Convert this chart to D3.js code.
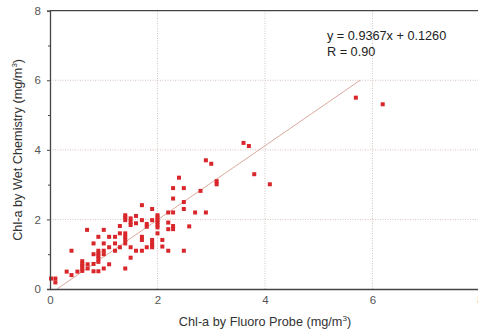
<!DOCTYPE html>
<html>
<head>
<meta charset="utf-8">
<script src="https://cdn.jsdelivr.net/npm/d3@7"></script>
<style>
  body { margin: 0; background: #fff; }
  svg { display: block; font-family: "Liberation Sans", Arial, sans-serif; }
</style>
</head>
<body>
<div id="chart"></div>
<script>
// Chl-a: fluoro probe (x) vs wet chemistry (y)
const probe = [0.02, 0.10, 0.10, 0.31, 0.40, 0.40, 0.51, 0.60, 0.60, 0.60, 0.60, 0.60,
  0.69, 0.70, 0.70, 0.81, 0.81, 0.81, 0.81, 0.90, 0.90, 0.90, 0.90, 0.90, 0.90, 0.90,
  1.00, 1.00, 1.00, 1.00, 1.00, 1.10, 1.10, 1.10, 1.21, 1.21, 1.21, 1.30, 1.30, 1.30,
  1.40, 1.40, 1.40, 1.40, 1.40, 1.40, 1.40, 1.40, 1.50, 1.50, 1.50, 1.50, 1.50,
  1.60, 1.60, 1.60, 1.71, 1.71, 1.71, 1.71, 1.71, 1.80, 1.80, 1.80,
  1.90, 1.90, 1.90, 1.90, 1.90, 1.90, 2.00, 2.00, 2.00, 2.00, 2.00, 2.00, 2.00,
  2.09, 2.09, 2.20, 2.20, 2.20, 2.20, 2.29, 2.29, 2.29, 2.29, 2.29, 2.40,
  2.49, 2.49, 2.49, 2.49, 2.59, 2.70, 2.80, 2.90, 2.90, 3.00, 3.10, 3.10,
  3.60, 3.70, 3.80, 4.09, 5.69, 6.19];
const wetChem = [0.30, 0.30, 0.19, 0.50, 0.40, 1.10, 0.50, 0.80, 0.72, 0.66, 0.59, 0.52,
  1.70, 0.71, 0.59, 1.31, 1.00, 0.72, 0.51, 1.50, 1.10, 1.02, 0.95, 0.87, 0.78, 0.51,
  1.70, 1.31, 1.10, 1.00, 0.59, 1.50, 1.20, 0.71, 1.50, 1.31, 1.10, 1.81, 1.60, 1.20,
  2.12, 2.06, 1.98, 1.60, 1.50, 1.41, 1.31, 0.59, 2.03, 1.93, 1.84, 1.20, 0.90,
  2.10, 1.89, 1.10, 2.41, 1.98, 1.50, 1.41, 1.10, 1.87, 1.79, 1.20,
  2.30, 1.98, 1.41, 1.33, 1.26, 1.20, 2.12, 2.06, 1.98, 1.92, 1.84, 1.77, 1.60,
  1.41, 1.22, 2.20, 1.91, 1.72, 1.10, 2.90, 2.60, 2.20, 1.81, 1.72, 3.20,
  2.90, 2.50, 2.30, 1.10, 1.80, 2.20, 2.82, 2.20, 3.70, 3.60, 3.10, 3.01,
  4.20, 4.11, 3.30, 3.01, 5.50, 5.31];

// fitted line as drawn (end points)
const fitX = [0.13, 5.77];
const fitY = [0.0, 6.0];

const xTicks = [0, 2, 4, 6, 8];
const yTicks = [0, 2, 4, 6, 8];
const yMinor = [1, 3, 5, 7];
const equation = ["y = 0.9367x + 0.1260", "R = 0.90"];

const W = 478, H = 332;
const margin = {top: 10.7, left: 50};
const plotW = 430, plotH = 278.3;

const svg = d3.select("#chart").append("svg")
  .attr("width", W).attr("height", H);

const x = d3.scaleLinear().domain([0, 8]).range([margin.left, margin.left + plotW]);
const y = d3.scaleLinear().domain([0, 8]).range([margin.top + plotH, margin.top]);

// dotted grid
svg.append("g")
  .selectAll("line")
  .data(xTicks.filter(d => d > 0 && d < 8))
  .join("line")
  .attr("x1", d => x(d)).attr("x2", d => x(d))
  .attr("y1", y(0)).attr("y2", y(8))
  .attr("stroke", "#cfc3bf").attr("stroke-width", 1)
  .attr("stroke-dasharray", "1 1.5");
svg.append("g")
  .selectAll("line")
  .data(yTicks.filter(d => d > 0 && d < 8))
  .join("line")
  .attr("x1", x(0)).attr("x2", x(8))
  .attr("y1", d => y(d)).attr("y2", d => y(d))
  .attr("stroke", "#d6c2ba").attr("stroke-width", 1)
  .attr("stroke-dasharray", "1 1.5");

// regression line
svg.append("line")
  .attr("x1", x(fitX[0])).attr("y1", y(fitY[0]))
  .attr("x2", x(fitX[1])).attr("y2", y(fitY[1]))
  .attr("stroke", "#dba99e").attr("stroke-width", 1);

// points
svg.append("g")
  .selectAll("rect")
  .data(probe.map((d, i) => [d, wetChem[i]]))
  .join("rect")
  .attr("x", d => x(d[0]) - 2)
  .attr("y", d => y(d[1]) - 2)
  .attr("width", 4).attr("height", 4)
  .attr("fill", "#d9262a");

// axes
const xAxis = svg.append("g")
  .attr("transform", `translate(0,${y(0)})`)
  .call(d3.axisBottom(x).tickValues(xTicks).tickSize(0).tickPadding(7));
const yAxis = svg.append("g")
  .attr("transform", `translate(${x(0)},0)`)
  .call(d3.axisLeft(y).tickValues(yTicks).tickSize(3).tickPadding(6));
svg.append("g")
  .attr("transform", `translate(${x(0)},0)`)
  .call(d3.axisLeft(y).tickValues(yMinor).tickSize(2).tickFormat(""))
  .call(g => g.select(".domain").remove())
  .call(g => g.selectAll("line").attr("stroke", "#444"));

[xAxis, yAxis].forEach(g => {
  g.select(".domain").attr("stroke", "#444").attr("stroke-width", 1.3);
  g.selectAll(".tick line").attr("stroke", "#444");
  g.selectAll("text").attr("fill", "#555").style("font-size", "11.5px")
    .style("font-family", "Liberation Sans, Arial, sans-serif");
});

// top frame line
svg.append("line")
  .attr("x1", x(0)).attr("x2", W)
  .attr("y1", y(8)).attr("y2", y(8))
  .attr("stroke", "#444").attr("stroke-width", 1.3);

// axis titles
const xl = svg.append("text")
  .attr("x", x(4)).attr("y", 326)
  .attr("text-anchor", "middle")
  .attr("fill", "#333").style("font-size", "12.7px");
xl.append("tspan").text("Chl-a by Fluoro Probe (mg/m");
xl.append("tspan").attr("dy", -5).style("font-size", "8px").text("3");
xl.append("tspan").attr("dy", 5).text(")");

const yl = svg.append("text")
  .attr("transform", `translate(22,${(y(0) + y(8)) / 2}) rotate(-90)`)
  .attr("text-anchor", "middle")
  .attr("fill", "#333").style("font-size", "12.7px");
yl.append("tspan").text("Chl-a by Wet Chemistry (mg/m");
yl.append("tspan").attr("dy", -5).style("font-size", "8px").text("3");
yl.append("tspan").attr("dy", 5).text(")");

// equation
svg.append("g")
  .selectAll("text")
  .data(equation)
  .join("text")
  .attr("x", 327)
  .attr("y", (d, i) => 40 + i * 16)
  .attr("fill", "#222").style("font-size", "12.7px")
  .text(d => d);
</script>
</body>
</html>
